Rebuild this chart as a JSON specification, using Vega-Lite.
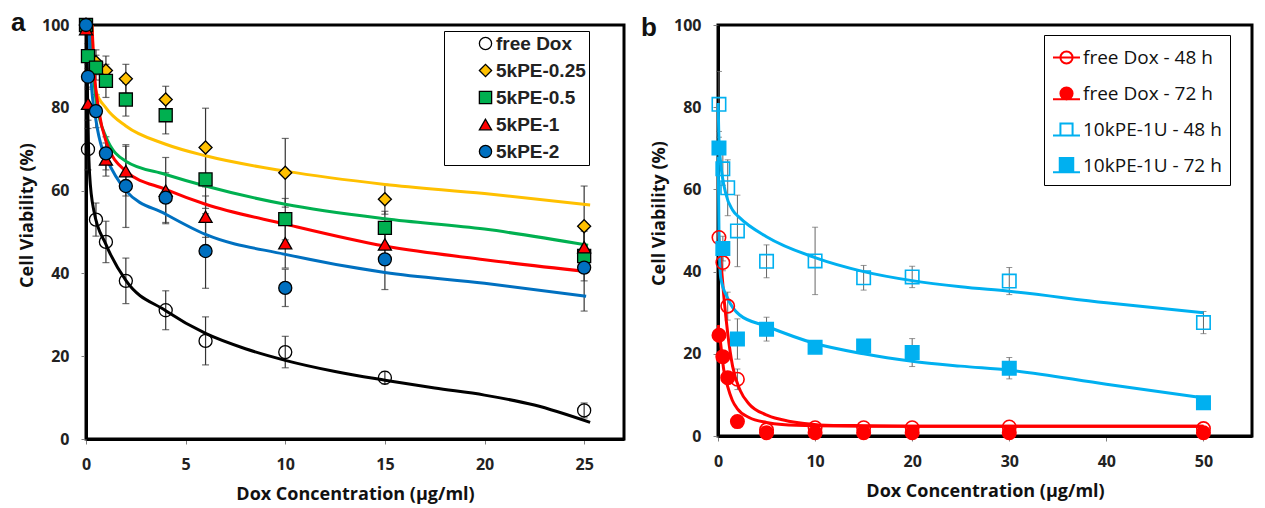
{
  "$schema": "https://vega.github.io/schema/vega-lite/v6.json",
  "background": "white",
  "padding": {"left": 9, "top": 8, "right": 5, "bottom": 5},
  "bounds": "flush",
  "spacing": 94,
  "resolve": {"scale": {"color": "independent", "fill": "independent", "shape": "independent", "stroke": "independent"}},
  "config": {
    "font": "Open Sans",
    "view": {"stroke": "black", "strokeWidth": 3},
    "axis": {
      "grid": false,
      "domainColor": "black",
      "domainWidth": 3,
      "tickColor": "#808080",
      "tickSize": 5,
      "tickWidth": 1,
      "labelFont": "Open Sans",
      "labelFontSize": 16,
      "labelFontWeight": "bold",
      "labelColor": "#222222",
      "labelFlush": false,
      "labelOverlap": false,
      "titleFont": "Open Sans",
      "titleFontSize": 18,
      "titleFontWeight": "bold",
      "titleColor": "#111111"
    },
    "axisX": {"labelPadding": 12, "titlePadding": 13},
    "axisY": {"labelPadding": 12, "titlePadding": 5, "titleY": 190},
    "title": {
      "anchor": "start",
      "frame": "group",
      "font": "Liberation Sans",
      "fontSize": 26,
      "fontWeight": "bold",
      "color": "#111111",
      "offset": 0
    }
  },
  "datasets": {
    "a_pts": [
      {"series": "free Dox", "conc": 0, "viab": 100, "sd": 0},
      {"series": "free Dox", "conc": 0.1, "viab": 70, "sd": 5},
      {"series": "free Dox", "conc": 0.5, "viab": 53, "sd": 4},
      {"series": "free Dox", "conc": 1, "viab": 47.6, "sd": 5},
      {"series": "free Dox", "conc": 2, "viab": 38.2, "sd": 5.5},
      {"series": "free Dox", "conc": 4, "viab": 31.1, "sd": 4.7},
      {"series": "free Dox", "conc": 6, "viab": 23.7, "sd": 5.8},
      {"series": "free Dox", "conc": 10, "viab": 21, "sd": 3.8},
      {"series": "free Dox", "conc": 15, "viab": 14.8, "sd": 1.5},
      {"series": "free Dox", "conc": 25, "viab": 6.9, "sd": 1.8},
      {"series": "5kPE-0.25", "conc": 0, "viab": 100, "sd": 0},
      {"series": "5kPE-0.25", "conc": 0.5, "viab": 91, "sd": 3},
      {"series": "5kPE-0.25", "conc": 1, "viab": 89, "sd": 3.5},
      {"series": "5kPE-0.25", "conc": 2, "viab": 87, "sd": 3.5},
      {"series": "5kPE-0.25", "conc": 4, "viab": 82, "sd": 3.2},
      {"series": "5kPE-0.25", "conc": 6, "viab": 70.4, "sd": 9.5},
      {"series": "5kPE-0.25", "conc": 10, "viab": 64.3, "sd": 8.3},
      {"series": "5kPE-0.25", "conc": 15, "viab": 57.9, "sd": 3.6},
      {"series": "5kPE-0.25", "conc": 25, "viab": 51.4, "sd": 9.7},
      {"series": "5kPE-0.5", "conc": 0, "viab": 100, "sd": 0},
      {"series": "5kPE-0.5", "conc": 0.1, "viab": 92.5, "sd": 3},
      {"series": "5kPE-0.5", "conc": 0.5, "viab": 89.7, "sd": 3},
      {"series": "5kPE-0.5", "conc": 1, "viab": 86.5, "sd": 4},
      {"series": "5kPE-0.5", "conc": 2, "viab": 82, "sd": 4},
      {"series": "5kPE-0.5", "conc": 4, "viab": 78.2, "sd": 4.5},
      {"series": "5kPE-0.5", "conc": 6, "viab": 62.7, "sd": 7},
      {"series": "5kPE-0.5", "conc": 10, "viab": 53.1, "sd": 5},
      {"series": "5kPE-0.5", "conc": 15, "viab": 51, "sd": 4},
      {"series": "5kPE-0.5", "conc": 25, "viab": 44.2, "sd": 6},
      {"series": "5kPE-1", "conc": 0, "viab": 99, "sd": 0},
      {"series": "5kPE-1", "conc": 0.1, "viab": 81, "sd": 4},
      {"series": "5kPE-1", "conc": 1, "viab": 67.5, "sd": 4},
      {"series": "5kPE-1", "conc": 2, "viab": 64.7, "sd": 6},
      {"series": "5kPE-1", "conc": 4, "viab": 60, "sd": 8},
      {"series": "5kPE-1", "conc": 6, "viab": 53.7, "sd": 5},
      {"series": "5kPE-1", "conc": 10, "viab": 47.3, "sd": 6},
      {"series": "5kPE-1", "conc": 15, "viab": 47, "sd": 5},
      {"series": "5kPE-1", "conc": 25, "viab": 46.3, "sd": 5},
      {"series": "5kPE-2", "conc": 0, "viab": 100, "sd": 0},
      {"series": "5kPE-2", "conc": 0.1, "viab": 87.5, "sd": 3},
      {"series": "5kPE-2", "conc": 0.5, "viab": 79.2, "sd": 4},
      {"series": "5kPE-2", "conc": 1, "viab": 69, "sd": 4},
      {"series": "5kPE-2", "conc": 2, "viab": 61.1, "sd": 10},
      {"series": "5kPE-2", "conc": 4, "viab": 58.3, "sd": 6},
      {"series": "5kPE-2", "conc": 6, "viab": 45.4, "sd": 9},
      {"series": "5kPE-2", "conc": 10, "viab": 36.5, "sd": 4.5},
      {"series": "5kPE-2", "conc": 15, "viab": 43.4, "sd": 7.3},
      {"series": "5kPE-2", "conc": 25, "viab": 41.4, "sd": 10.5}
    ],
    "a_fit": [
      {"series": "free Dox", "conc": 0.02, "viab": 100},
      {"series": "free Dox", "conc": 0.07, "viab": 85},
      {"series": "free Dox", "conc": 0.12, "viab": 72},
      {"series": "free Dox", "conc": 0.18, "viab": 64},
      {"series": "free Dox", "conc": 0.4, "viab": 55},
      {"series": "free Dox", "conc": 1, "viab": 47},
      {"series": "free Dox", "conc": 2, "viab": 38.3},
      {"series": "free Dox", "conc": 4, "viab": 31},
      {"series": "free Dox", "conc": 6, "viab": 25.5},
      {"series": "free Dox", "conc": 8, "viab": 21.8},
      {"series": "free Dox", "conc": 10, "viab": 19},
      {"series": "free Dox", "conc": 12.5, "viab": 16.3},
      {"series": "free Dox", "conc": 15, "viab": 14.2},
      {"series": "free Dox", "conc": 17.5, "viab": 12.3},
      {"series": "free Dox", "conc": 20, "viab": 10.6},
      {"series": "free Dox", "conc": 22.5, "viab": 8.2},
      {"series": "free Dox", "conc": 25.3, "viab": 4},
      {"series": "5kPE-0.25", "conc": 0.3, "viab": 100},
      {"series": "5kPE-0.25", "conc": 0.4, "viab": 88},
      {"series": "5kPE-0.25", "conc": 0.5, "viab": 84},
      {"series": "5kPE-0.25", "conc": 1, "viab": 80},
      {"series": "5kPE-0.25", "conc": 2, "viab": 75.6},
      {"series": "5kPE-0.25", "conc": 4, "viab": 71.2},
      {"series": "5kPE-0.25", "conc": 6, "viab": 68.4},
      {"series": "5kPE-0.25", "conc": 10, "viab": 64.7},
      {"series": "5kPE-0.25", "conc": 15, "viab": 61.5},
      {"series": "5kPE-0.25", "conc": 20, "viab": 59.3},
      {"series": "5kPE-0.25", "conc": 25.3, "viab": 56.5},
      {"series": "5kPE-0.5", "conc": 0.25, "viab": 100},
      {"series": "5kPE-0.5", "conc": 0.35, "viab": 90},
      {"series": "5kPE-0.5", "conc": 0.5, "viab": 82},
      {"series": "5kPE-0.5", "conc": 1, "viab": 73},
      {"series": "5kPE-0.5", "conc": 2, "viab": 67.1},
      {"series": "5kPE-0.5", "conc": 4, "viab": 63.9},
      {"series": "5kPE-0.5", "conc": 6, "viab": 61.1},
      {"series": "5kPE-0.5", "conc": 10, "viab": 56.7},
      {"series": "5kPE-0.5", "conc": 15, "viab": 53.2},
      {"series": "5kPE-0.5", "conc": 20, "viab": 50.7},
      {"series": "5kPE-0.5", "conc": 25.2, "viab": 46.8},
      {"series": "5kPE-1", "conc": 0.3, "viab": 100},
      {"series": "5kPE-1", "conc": 0.4, "viab": 90},
      {"series": "5kPE-1", "conc": 0.65, "viab": 79.2},
      {"series": "5kPE-1", "conc": 1, "viab": 72},
      {"series": "5kPE-1", "conc": 2, "viab": 64.7},
      {"series": "5kPE-1", "conc": 4, "viab": 60.3},
      {"series": "5kPE-1", "conc": 6, "viab": 56.7},
      {"series": "5kPE-1", "conc": 10, "viab": 51.9},
      {"series": "5kPE-1", "conc": 15, "viab": 46.6},
      {"series": "5kPE-1", "conc": 20, "viab": 43.3},
      {"series": "5kPE-1", "conc": 25.2, "viab": 40.4},
      {"series": "5kPE-2", "conc": 0.15, "viab": 100},
      {"series": "5kPE-2", "conc": 0.25, "viab": 87},
      {"series": "5kPE-2", "conc": 0.5, "viab": 77},
      {"series": "5kPE-2", "conc": 0.82, "viab": 70},
      {"series": "5kPE-2", "conc": 1, "viab": 68},
      {"series": "5kPE-2", "conc": 2, "viab": 60},
      {"series": "5kPE-2", "conc": 4, "viab": 54.3},
      {"series": "5kPE-2", "conc": 6, "viab": 49.4},
      {"series": "5kPE-2", "conc": 10, "viab": 44.6},
      {"series": "5kPE-2", "conc": 15, "viab": 40.2},
      {"series": "5kPE-2", "conc": 20, "viab": 37.6},
      {"series": "5kPE-2", "conc": 25.1, "viab": 34.5}
    ],
    "b_pts": [
      {"series": "free Dox - 48 h", "conc": 0.1, "viab": 48.3, "sd": 0},
      {"series": "free Dox - 48 h", "conc": 0.5, "viab": 42.2, "sd": 2},
      {"series": "free Dox - 48 h", "conc": 1, "viab": 31.6, "sd": 3.4},
      {"series": "free Dox - 48 h", "conc": 2, "viab": 13.8, "sd": 2.5},
      {"series": "free Dox - 48 h", "conc": 5, "viab": 1.5, "sd": 0.5},
      {"series": "free Dox - 48 h", "conc": 10, "viab": 2, "sd": 0},
      {"series": "free Dox - 48 h", "conc": 15, "viab": 2, "sd": 0},
      {"series": "free Dox - 48 h", "conc": 20, "viab": 2, "sd": 0},
      {"series": "free Dox - 48 h", "conc": 30, "viab": 2.2, "sd": 0},
      {"series": "free Dox - 48 h", "conc": 50, "viab": 1.8, "sd": 0},
      {"series": "free Dox - 72 h", "conc": 0.1, "viab": 24.5, "sd": 0},
      {"series": "free Dox - 72 h", "conc": 0.5, "viab": 19.3, "sd": 0},
      {"series": "free Dox - 72 h", "conc": 1, "viab": 14.2, "sd": 1},
      {"series": "free Dox - 72 h", "conc": 2, "viab": 3.5, "sd": 0},
      {"series": "free Dox - 72 h", "conc": 5, "viab": 0.8, "sd": 0},
      {"series": "free Dox - 72 h", "conc": 10, "viab": 0.8, "sd": 0},
      {"series": "free Dox - 72 h", "conc": 15, "viab": 0.8, "sd": 0},
      {"series": "free Dox - 72 h", "conc": 20, "viab": 0.8, "sd": 0},
      {"series": "free Dox - 72 h", "conc": 30, "viab": 0.8, "sd": 0},
      {"series": "free Dox - 72 h", "conc": 50, "viab": 0.8, "sd": 0},
      {"series": "10kPE-1U - 48 h", "conc": 0.1, "viab": 80.7, "sd": 8},
      {"series": "10kPE-1U - 48 h", "conc": 0.5, "viab": 65, "sd": 4},
      {"series": "10kPE-1U - 48 h", "conc": 1, "viab": 60.4, "sd": 6.8},
      {"series": "10kPE-1U - 48 h", "conc": 2, "viab": 49.9, "sd": 8.7},
      {"series": "10kPE-1U - 48 h", "conc": 5, "viab": 42.5, "sd": 4},
      {"series": "10kPE-1U - 48 h", "conc": 10, "viab": 42.6, "sd": 8.2},
      {"series": "10kPE-1U - 48 h", "conc": 15, "viab": 38.5, "sd": 3},
      {"series": "10kPE-1U - 48 h", "conc": 20, "viab": 38.7, "sd": 2.6},
      {"series": "10kPE-1U - 48 h", "conc": 30, "viab": 37.7, "sd": 3.3},
      {"series": "10kPE-1U - 48 h", "conc": 50, "viab": 27.6, "sd": 2.7},
      {"series": "10kPE-1U - 72 h", "conc": 0.1, "viab": 70.1, "sd": 4},
      {"series": "10kPE-1U - 72 h", "conc": 0.5, "viab": 45.6, "sd": 3},
      {"series": "10kPE-1U - 72 h", "conc": 2, "viab": 23.6, "sd": 4.9},
      {"series": "10kPE-1U - 72 h", "conc": 5, "viab": 26, "sd": 2.9},
      {"series": "10kPE-1U - 72 h", "conc": 10, "viab": 21.6, "sd": 1},
      {"series": "10kPE-1U - 72 h", "conc": 15, "viab": 21.9, "sd": 1},
      {"series": "10kPE-1U - 72 h", "conc": 20, "viab": 20.3, "sd": 3.4},
      {"series": "10kPE-1U - 72 h", "conc": 30, "viab": 16.5, "sd": 2.6},
      {"series": "10kPE-1U - 72 h", "conc": 50, "viab": 8.1, "sd": 1}
    ],
    "b_fit": [
      {"series": "free Dox - 48 h", "conc": 0.02, "viab": 50},
      {"series": "free Dox - 48 h", "conc": 0.3, "viab": 42.5},
      {"series": "free Dox - 48 h", "conc": 0.6, "viab": 34},
      {"series": "free Dox - 48 h", "conc": 1, "viab": 25},
      {"series": "free Dox - 48 h", "conc": 1.5, "viab": 17},
      {"series": "free Dox - 48 h", "conc": 2.3, "viab": 11},
      {"series": "free Dox - 48 h", "conc": 3.2, "viab": 7.8},
      {"series": "free Dox - 48 h", "conc": 4.9, "viab": 5.2},
      {"series": "free Dox - 48 h", "conc": 6.5, "viab": 4},
      {"series": "free Dox - 48 h", "conc": 8.3, "viab": 3.2},
      {"series": "free Dox - 48 h", "conc": 10.4, "viab": 2.7},
      {"series": "free Dox - 48 h", "conc": 15, "viab": 2.5},
      {"series": "free Dox - 48 h", "conc": 20, "viab": 2.4},
      {"series": "free Dox - 48 h", "conc": 30, "viab": 2.4},
      {"series": "free Dox - 48 h", "conc": 50, "viab": 2.4},
      {"series": "free Dox - 72 h", "conc": 0.02, "viab": 27},
      {"series": "free Dox - 72 h", "conc": 0.17, "viab": 24.5},
      {"series": "free Dox - 72 h", "conc": 0.6, "viab": 16},
      {"series": "free Dox - 72 h", "conc": 1, "viab": 12},
      {"series": "free Dox - 72 h", "conc": 1.47, "viab": 8.7},
      {"series": "free Dox - 72 h", "conc": 2, "viab": 6.6},
      {"series": "free Dox - 72 h", "conc": 3.2, "viab": 4.5},
      {"series": "free Dox - 72 h", "conc": 5, "viab": 3.3},
      {"series": "free Dox - 72 h", "conc": 6.6, "viab": 2.8},
      {"series": "free Dox - 72 h", "conc": 10, "viab": 2.5},
      {"series": "free Dox - 72 h", "conc": 15, "viab": 2.4},
      {"series": "free Dox - 72 h", "conc": 20, "viab": 2.4},
      {"series": "free Dox - 72 h", "conc": 30, "viab": 2.4},
      {"series": "free Dox - 72 h", "conc": 50, "viab": 2.4},
      {"series": "10kPE-1U - 48 h", "conc": 0.02, "viab": 81},
      {"series": "10kPE-1U - 48 h", "conc": 0.1, "viab": 72},
      {"series": "10kPE-1U - 48 h", "conc": 0.3, "viab": 66},
      {"series": "10kPE-1U - 48 h", "conc": 0.8, "viab": 59},
      {"series": "10kPE-1U - 48 h", "conc": 1.5, "viab": 55},
      {"series": "10kPE-1U - 48 h", "conc": 2.2, "viab": 53.2},
      {"series": "10kPE-1U - 48 h", "conc": 5, "viab": 48.5},
      {"series": "10kPE-1U - 48 h", "conc": 10, "viab": 43.4},
      {"series": "10kPE-1U - 48 h", "conc": 15, "viab": 40},
      {"series": "10kPE-1U - 48 h", "conc": 20, "viab": 37.8},
      {"series": "10kPE-1U - 48 h", "conc": 25, "viab": 36.3},
      {"series": "10kPE-1U - 48 h", "conc": 30, "viab": 35.2},
      {"series": "10kPE-1U - 48 h", "conc": 40, "viab": 32.4},
      {"series": "10kPE-1U - 48 h", "conc": 50, "viab": 30},
      {"series": "10kPE-1U - 72 h", "conc": 0.02, "viab": 68},
      {"series": "10kPE-1U - 72 h", "conc": 0.1, "viab": 50},
      {"series": "10kPE-1U - 72 h", "conc": 0.28, "viab": 38.5},
      {"series": "10kPE-1U - 72 h", "conc": 1, "viab": 33.5},
      {"series": "10kPE-1U - 72 h", "conc": 2.2, "viab": 29.5},
      {"series": "10kPE-1U - 72 h", "conc": 5, "viab": 26.7},
      {"series": "10kPE-1U - 72 h", "conc": 10, "viab": 22.5},
      {"series": "10kPE-1U - 72 h", "conc": 15, "viab": 20},
      {"series": "10kPE-1U - 72 h", "conc": 20, "viab": 18.2},
      {"series": "10kPE-1U - 72 h", "conc": 25, "viab": 17},
      {"series": "10kPE-1U - 72 h", "conc": 30, "viab": 16},
      {"series": "10kPE-1U - 72 h", "conc": 40, "viab": 12.6},
      {"series": "10kPE-1U - 72 h", "conc": 50, "viab": 9.3}
    ]
  },
  "hconcat": [
    {
      "width": 538,
      "height": 414,
      "title": {"text": "a", "dx": -75, "dy": 24},
      "encoding": {
        "x": {
          "field": "conc",
          "type": "quantitative",
          "title": "Dox Concentration (µg/ml)",
          "scale": {"domain": [0, 27], "nice": false},
          "axis": {"values": [0, 5, 10, 15, 20, 25]}
        },
        "y": {
          "field": "viab",
          "type": "quantitative",
          "title": "Cell Viability (%)",
          "scale": {"domain": [0, 100], "nice": false},
          "axis": {"values": [0, 20, 40, 60, 80, 100]}
        }
      },
      "resolve": {"scale": {"shape": "independent", "fill": "independent", "stroke": "independent"}},
      "layer": [
        {
          "data": {"name": "a_pts"},
          "transform": [{"filter": "datum.sd > 0"}],
          "mark": {"type": "errorbar", "color": "#333333", "thickness": 1.2, "ticks": {"size": 7}},
          "encoding": {"yError": {"field": "sd"}}
        },
        {
          "data": {"name": "a_fit"},
          "mark": {"type": "line", "strokeWidth": 3, "interpolate": "monotone"},
          "encoding": {
            "color": {
              "field": "series",
              "type": "nominal",
              "scale": {
                "domain": ["free Dox", "5kPE-0.25", "5kPE-0.5", "5kPE-1", "5kPE-2"],
                "range": ["#000000", "#FFC000", "#00B050", "#FF0000", "#0070C0"]
              },
              "legend": null
            }
          }
        },
        {
          "data": {"name": "a_pts"},
          "mark": {"type": "point", "stroke": "black", "strokeWidth": 1.3, "size": 170, "opacity": 1},
          "encoding": {
            "shape": {
              "field": "series",
              "type": "nominal",
              "scale": {
                "domain": ["free Dox", "5kPE-0.25", "5kPE-0.5", "5kPE-1", "5kPE-2"],
                "range": ["circle", "diamond", "square", "triangle-up", "circle"]
              },
              "legend": null
            },
            "fill": {
              "field": "series",
              "type": "nominal",
              "scale": {
                "domain": ["free Dox", "5kPE-0.25", "5kPE-0.5", "5kPE-1", "5kPE-2"],
                "range": ["transparent", "#FFC000", "#00B050", "#FF0000", "#0070C0"]
              },
              "legend": null
            }
          }
        },
        {
          "data": {"values": []},
          "mark": {"type": "point", "strokeWidth": 1.3, "opacity": 1},
          "encoding": {
            "shape": {
              "field": "series",
              "type": "nominal",
              "scale": {
                "domain": ["free Dox", "5kPE-0.25", "5kPE-0.5", "5kPE-1", "5kPE-2"],
                "range": ["circle", "diamond", "square", "triangle-up", "circle"]
              },
              "legend": {
                "orient": "none", "legendX": 358, "legendY": 6, "title": null,
                "strokeColor": "black", "padding": 3,
                "labelFont": "Liberation Sans", "labelFontSize": 19, "labelFontWeight": "bold", "labelColor": "#222222",
                "labelExpr": "datum.label + '\u2003\u2003'",
                "symbolSize": 150, "symbolStrokeWidth": 1.3,
                "symbolOffset": 29, "rowPadding": 7, "labelOffset": 1
              }
            },
            "fill": {
              "field": "series",
              "type": "nominal",
              "scale": {
                "domain": ["free Dox", "5kPE-0.25", "5kPE-0.5", "5kPE-1", "5kPE-2"],
                "range": ["transparent", "#FFC000", "#00B050", "#FF0000", "#0070C0"]
              },
              "legend": {
                "orient": "none", "legendX": 358, "legendY": 6, "title": null,
                "strokeColor": "black", "padding": 3,
                "labelFont": "Liberation Sans", "labelFontSize": 19, "labelFontWeight": "bold", "labelColor": "#222222",
                "labelExpr": "datum.label + '\u2003\u2003'",
                "symbolSize": 150, "symbolStrokeWidth": 1.3,
                "symbolOffset": 29, "rowPadding": 7, "labelOffset": 1
              }
            },
            "stroke": {
              "field": "series",
              "type": "nominal",
              "scale": {
                "domain": ["free Dox", "5kPE-0.25", "5kPE-0.5", "5kPE-1", "5kPE-2"],
                "range": ["#000000", "#000000", "#000000", "#000000", "#000000"]
              },
              "legend": {
                "orient": "none", "legendX": 358, "legendY": 6, "title": null,
                "strokeColor": "black", "padding": 3,
                "labelFont": "Liberation Sans", "labelFontSize": 19, "labelFontWeight": "bold", "labelColor": "#222222",
                "labelExpr": "datum.label + '\u2003\u2003'",
                "symbolSize": 150, "symbolStrokeWidth": 1.3,
                "symbolOffset": 29, "rowPadding": 7, "labelOffset": 1
              }
            }
          }
        }
      ]
    },
    {
      "width": 534,
      "height": 411,
      "title": {"text": "b", "dx": -77, "dy": 28},
      "encoding": {
        "x": {
          "field": "conc",
          "type": "quantitative",
          "title": "Dox Concentration (µg/ml)",
          "scale": {"domain": [0, 55], "nice": false},
          "axis": {"values": [0, 10, 20, 30, 40, 50]}
        },
        "y": {
          "field": "viab",
          "type": "quantitative",
          "title": "Cell Viability (%)",
          "scale": {"domain": [0, 100], "nice": false},
          "axis": {"values": [0, 20, 40, 60, 80, 100], "titleY": 188}
        }
      },
      "resolve": {"scale": {"shape": "independent", "fill": "independent", "stroke": "independent"}},
      "layer": [
        {
          "data": {"name": "b_pts"},
          "transform": [{"filter": "datum.sd > 0"}],
          "mark": {"type": "errorbar", "color": "#666666", "thickness": 1, "ticks": {"size": 6}},
          "encoding": {"yError": {"field": "sd"}}
        },
        {
          "data": {"name": "b_fit"},
          "mark": {"type": "line", "strokeWidth": 3, "interpolate": "monotone"},
          "encoding": {
            "color": {
              "field": "series",
              "type": "nominal",
              "scale": {
                "domain": ["free Dox - 48 h", "free Dox - 72 h", "10kPE-1U - 48 h", "10kPE-1U - 72 h"],
                "range": ["#FF0000", "#FF0000", "#00B0F0", "#00B0F0"]
              },
              "legend": null
            }
          }
        },
        {
          "data": {"name": "b_pts"},
          "mark": {"type": "point", "strokeWidth": 1.6, "size": 180, "opacity": 1},
          "encoding": {
            "shape": {
              "field": "series", "type": "nominal",
              "scale": {
                "domain": ["free Dox - 48 h", "free Dox - 72 h", "10kPE-1U - 48 h", "10kPE-1U - 72 h"],
                "range": ["circle", "circle", "square", "square"]
              },
              "legend": null
            },
            "fill": {
              "field": "series", "type": "nominal",
              "scale": {
                "domain": ["free Dox - 48 h", "free Dox - 72 h", "10kPE-1U - 48 h", "10kPE-1U - 72 h"],
                "range": ["transparent", "#FF0000", "transparent", "#00B0F0"]
              },
              "legend": null
            },
            "stroke": {
              "field": "series", "type": "nominal",
              "scale": {
                "domain": ["free Dox - 48 h", "free Dox - 72 h", "10kPE-1U - 48 h", "10kPE-1U - 72 h"],
                "range": ["#FF0000", "#FF0000", "#00B0F0", "#00B0F0"]
              },
              "legend": null
            }
          }
        },
        {
          "data": {"values": []},
          "mark": {"type": "point", "strokeWidth": 2, "opacity": 1},
          "encoding": {
            "shape": {
              "field": "series", "type": "nominal",
              "scale": {
                "domain": ["free Dox - 48 h", "free Dox - 72 h", "10kPE-1U - 48 h", "10kPE-1U - 72 h"],
                "range": [
                  "M-1,0H1M0.45,0A0.45,0.45,0,1,1,-0.45,0A0.45,0.45,0,1,1,0.45,0",
                  "M-1,0.42H1M0.45,0A0.45,0.45,0,1,1,-0.45,0A0.45,0.45,0,1,1,0.45,0",
                  "M-1,0.45H1M-0.45,-0.45H0.45V0.45H-0.45Z",
                  "M-1,0.5H1M-0.5,-0.55H0.5V0.5H-0.5Z"
                ]
              },
              "legend": {
                "orient": "none", "legendX": 326, "legendY": 10, "title": null,
                "strokeColor": "black", "padding": 8,
                "labelFont": "Open Sans", "labelFontSize": 19, "labelColor": "#111111",
                "labelExpr": "datum.label + '\u2002'",
                "symbolSize": 729, "symbolStrokeWidth": 2, "rowPadding": 11, "labelOffset": 2
              }
            },
            "fill": {
              "field": "series", "type": "nominal",
              "scale": {
                "domain": ["free Dox - 48 h", "free Dox - 72 h", "10kPE-1U - 48 h", "10kPE-1U - 72 h"],
                "range": ["transparent", "#FF0000", "transparent", "#00B0F0"]
              },
              "legend": {
                "orient": "none", "legendX": 326, "legendY": 10, "title": null,
                "strokeColor": "black", "padding": 8,
                "labelFont": "Open Sans", "labelFontSize": 19, "labelColor": "#111111",
                "labelExpr": "datum.label + '\u2002'",
                "symbolSize": 729, "symbolStrokeWidth": 2, "rowPadding": 11, "labelOffset": 2
              }
            },
            "stroke": {
              "field": "series", "type": "nominal",
              "scale": {
                "domain": ["free Dox - 48 h", "free Dox - 72 h", "10kPE-1U - 48 h", "10kPE-1U - 72 h"],
                "range": ["#FF0000", "#FF0000", "#00B0F0", "#00B0F0"]
              },
              "legend": {
                "orient": "none", "legendX": 326, "legendY": 10, "title": null,
                "strokeColor": "black", "padding": 8,
                "labelFont": "Open Sans", "labelFontSize": 19, "labelColor": "#111111",
                "labelExpr": "datum.label + '\u2002'",
                "symbolSize": 729, "symbolStrokeWidth": 2, "rowPadding": 11, "labelOffset": 2
              }
            }
          }
        }
      ]
    }
  ]
}
